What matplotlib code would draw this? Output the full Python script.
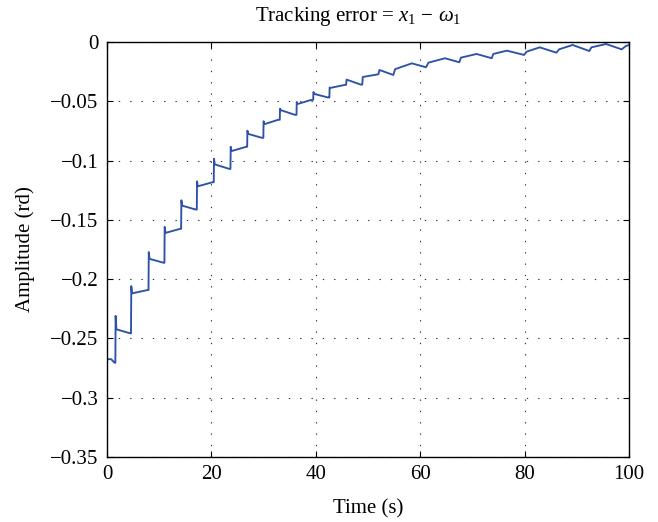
import matplotlib
matplotlib.use("Agg")
import matplotlib.pyplot as plt

# Polyline vertices (time in s, error in rd)
time_pts = [0.0, 0.0, 0.8, 1.45,
            1.6, 1.65, 1.8, 4.45,
            4.6, 4.65, 4.8, 7.75,
            7.95, 8.0, 8.15, 10.85,
            11.0, 11.05, 11.2, 14.0,
            14.2, 14.25, 14.4, 17.0,
            17.2, 17.25, 17.4, 20.2,
            20.45, 20.5, 20.65, 23.4,
            23.65, 23.7, 23.85, 26.65,
            26.85, 26.9, 27.05, 29.65,
            29.95, 30.0, 30.15, 32.8,
            33.1, 33.15, 33.3, 36.0,
            36.3, 36.35, 36.5, 39.15,
            39.5, 39.55, 39.7, 42.35,
            42.6, 42.65, 42.8, 45.55,
            45.8, 45.9, 48.6,
            48.9, 49.0, 52.0,
            52.2, 54.85,
            55.2, 58.4, 61.1,
            61.6, 64.75, 67.5,
            67.8, 70.8, 73.7,
            74.0, 76.6, 79.9,
            80.4, 82.9, 86.1,
            86.6, 89.2, 92.4,
            92.8, 95.6, 98.6,
            99.4, 100.0]
error_pts = [0.0, -0.2675, -0.2675, -0.2705,
             -0.2705, -0.231, -0.2423, -0.2457,
             -0.2457, -0.2059, -0.2120, -0.2092,
             -0.2092, -0.1772, -0.1829, -0.1862,
             -0.1862, -0.1560, -0.1610, -0.1576,
             -0.1576, -0.1335, -0.1380, -0.1413,
             -0.1413, -0.1175, -0.1217, -0.1183,
             -0.1183, -0.0985, -0.1032, -0.1070,
             -0.1070, -0.0884, -0.0920, -0.0884,
             -0.0884, -0.0748, -0.0775, -0.0808,
             -0.0808, -0.0668, -0.0693, -0.0656,
             -0.0656, -0.0562, -0.0575, -0.0614,
             -0.0614, -0.0506, -0.0523, -0.0488,
             -0.0488, -0.0422, -0.0438, -0.0468,
             -0.0468, -0.0384, -0.0387, -0.0362,
             -0.0362, -0.0317, -0.0359,
             -0.0359, -0.0295, -0.0272,
             -0.0236, -0.0278,
             -0.0229, -0.0180, -0.0213,
             -0.0174, -0.0137, -0.0171,
             -0.0132, -0.0101, -0.0137,
             -0.0101, -0.0073, -0.0109,
             -0.0081, -0.0045, -0.0090,
             -0.0062, -0.0025, -0.0076,
             -0.0045, -0.0017, -0.0062,
             -0.0034, -0.0025]

x_ticks = [0, 20, 40, 60, 80, 100]
y_ticks = [0, -0.05, -0.1, -0.15, -0.2, -0.25, -0.3, -0.35]
y_tick_labels = ["0", "\u22120.05", "\u22120.1", "\u22120.15", "\u22120.2",
                 "\u22120.25", "\u22120.3", "\u22120.35"]

plt.rcParams['font.family'] = ['Liberation Serif', 'DejaVu Serif']
plt.rcParams['mathtext.fontset'] = 'custom'
plt.rcParams['mathtext.rm'] = 'Liberation Serif'
plt.rcParams['mathtext.it'] = 'Liberation Serif:italic'

fig = plt.figure(figsize=(6.58, 5.22), dpi=100)
ax = fig.add_axes([107/658, 1 - 457/522, (629-107)/658, (457-42)/522])

ax.plot(time_pts, error_pts, color='#2d52a8', lw=1.35)

ax.set_xlim(0, 100)
ax.set_ylim(-0.35, 0)
ax.set_xticks(x_ticks)
ax.set_xticklabels([str(v) for v in x_ticks])
ax.set_yticks(y_ticks)
ax.set_yticklabels(y_tick_labels)
ax.tick_params(direction='in', top=True, right=True, labelsize=15, length=4, width=0.8, pad=6)
ax.grid(True, color='#333333', linestyle=(0, (1.2, 9)), lw=0.8)
for s in ax.spines.values():
    s.set_linewidth(1.0)
    s.set_color('black')

ax.set_title("Tracking error = $x_1\\, -\\, \\omega_1$", fontsize=15, pad=15, x=0.481)
ax.set_xlabel("Time (s)", fontsize=15, labelpad=11)
ax.set_ylabel("Amplitude (rd)", fontsize=15, labelpad=11)

fig.savefig("out.png", dpi=100)
